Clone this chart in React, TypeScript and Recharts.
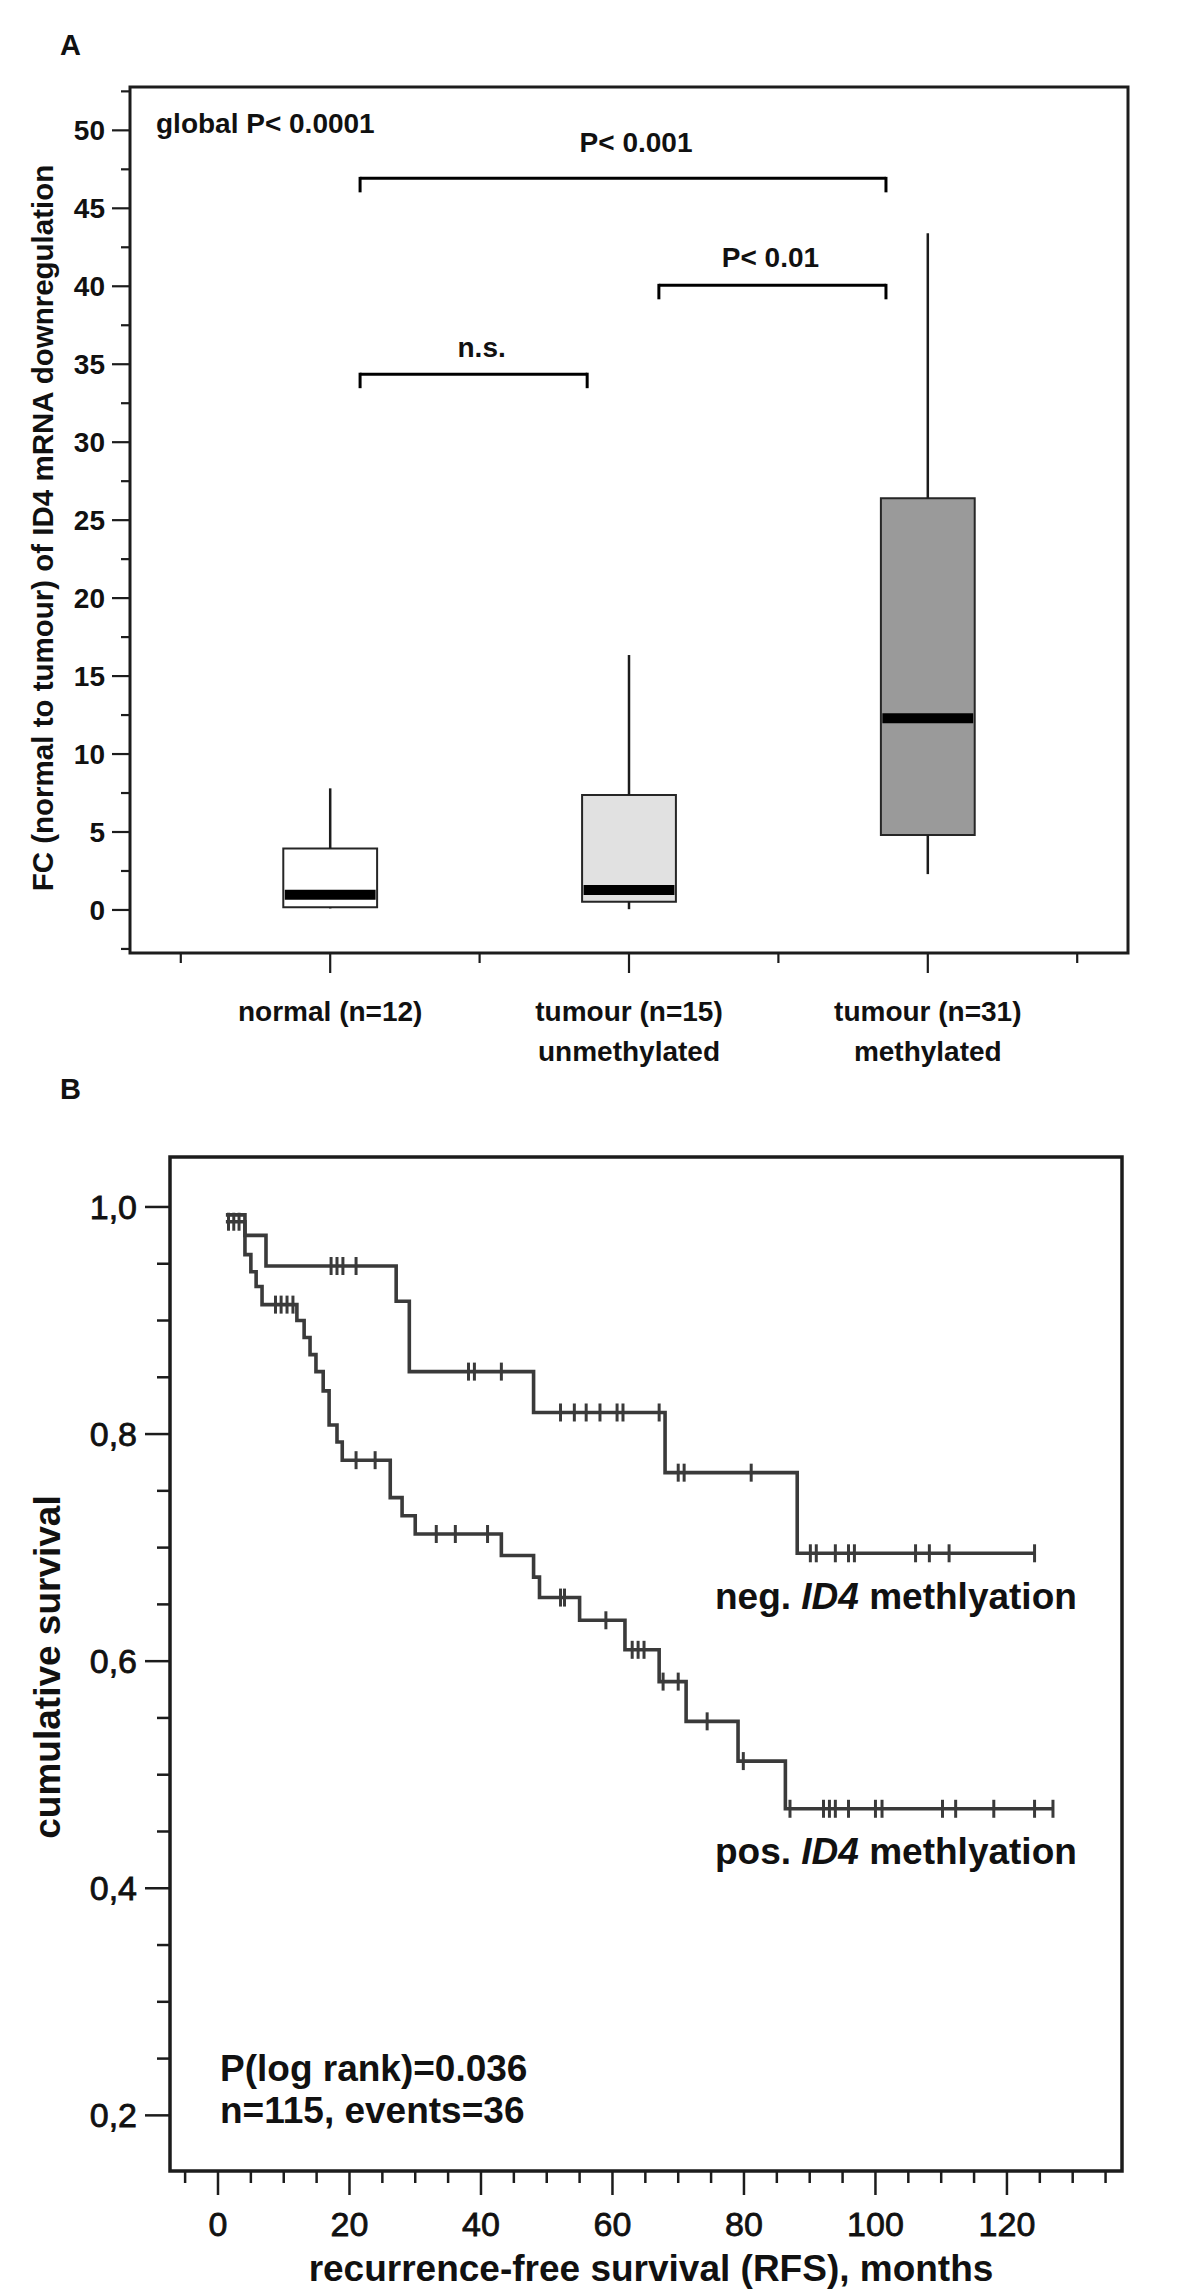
import React from "react";
import { ComposedChart, XAxis, YAxis, ReferenceArea, ReferenceLine, Line, Scatter } from "recharts";

const FONT = '"Liberation Sans", Arial, Helvetica, sans-serif';
const INK = "#1c1c1c";
const CURVE = "#3a3a3a";

// ---- panel A: FC of ID4 mRNA, box plot ----
const groupNames = ["normal (n=12)", "tumour (n=15)", "tumour (n=31)"];
const groupSubNames = ["", "unmethylated", "methylated"];
const groupPos = [1, 2, 3];
const whiskerLow = [0.1, 0.05, 2.3];
const quart1 = [0.17, 0.53, 4.8];
const medians = [0.98, 1.28, 12.3];
const quart3 = [3.95, 7.37, 26.4];
const whiskerHigh = [7.8, 16.35, 43.4];
const boxFill = ["#ffffff", "#e1e1e1", "#9a9a9a"];

const fcTicks = [-2.5, 0, 2.5, 5, 7.5, 10, 12.5, 15, 17.5, 20, 22.5, 25, 27.5, 30, 32.5, 35, 37.5, 40, 42.5, 45, 47.5, 50, 52.5];
const fcLabelTicks = [0, 5, 10, 15, 20, 25, 30, 35, 40, 45, 50];
const groupTicks = [0.5, 1, 1.5, 2, 2.5, 3, 3.5];

const bracketLeft = [1.1, 2.1, 1.1];
const bracketRight = [2.86, 2.86, 1.86];
const bracketLevel = [46.92, 40.06, 34.36];
const bracketText = ["P< 0.001", "P< 0.01", "n.s."];

// ---- panel B: Kaplan-Meier, recurrence-free survival ----
const negTime = [1.2, 4.1, 7.3, 27.1, 29.1, 48.0, 68.0, 88.1, 124.2];
const negSurv = [0.987, 0.975, 0.948, 0.917, 0.855, 0.819, 0.766, 0.695, 0.695];
const negCensored = [1.6, 2.4, 3.2, 17.2, 18.1, 19.0, 21.0, 38.1, 39.0, 43.1, 52.1, 54.2, 56.0, 58.1, 60.7, 61.6, 67.1, 70.0, 70.9, 81.1, 90.1, 91.0, 93.9, 95.9, 96.8, 106.1, 108.2, 111.2, 124.2];

const posTime = [1.2, 4.1, 5.0, 5.8, 6.7, 12.0, 13.1, 14.0, 14.9, 16.0, 16.9, 18.1, 18.9, 26.2, 28.0, 30.0, 43.1, 48.0, 48.9, 55.0, 61.9, 67.1, 71.2, 79.1, 86.3, 127.0];
const posSurv = [0.993, 0.958, 0.943, 0.930, 0.914, 0.900, 0.885, 0.870, 0.855, 0.838, 0.808, 0.793, 0.777, 0.744, 0.728, 0.712, 0.693, 0.674, 0.656, 0.636, 0.610, 0.582, 0.547, 0.512, 0.470, 0.470];
const posCensored = [8.75, 9.6, 10.5, 11.4, 21.0, 23.9, 33.2, 36.1, 41.0, 52.1, 52.7, 59.0, 63.0, 63.9, 64.8, 67.7, 70.0, 74.4, 79.9, 87.0, 92.1, 93.0, 93.9, 95.9, 100.0, 101.0, 110.2, 112.2, 118.0, 124.2, 127.0];

const survTicks = [0.2, 0.25, 0.3, 0.35, 0.4, 0.45, 0.5, 0.55, 0.6, 0.65, 0.7, 0.75, 0.8, 0.85, 0.9, 0.95, 1.0];
const survLabelTicks = [0.2, 0.4, 0.6, 0.8, 1.0];
const monthTicks = [-5, 0, 5, 10, 15, 20, 25, 30, 35, 40, 45, 50, 55, 60, 65, 70, 75, 80, 85, 90, 95, 100, 105, 110, 115, 120, 125, 130, 135];
const monthLabelTicks = [0, 20, 40, 60, 80, 100, 120];

const has = (list: number[], v: number) => list.some((a) => Math.abs(a - v) < 1e-6);

const toSteps = (time: number[], surv: number[]) => time.map((t, i) => ({ t, v: surv[i] }));
const levelAt = (time: number[], surv: number[], t: number) => {
  let v = surv[0];
  time.forEach((tt, i) => {
    if (tt <= t + 1e-9) v = surv[i];
  });
  return v;
};
const toCensors = (cens: number[], time: number[], surv: number[]) =>
  cens.map((t) => ({ t, v: levelAt(time, surv, t) }));

const negData = toSteps(negTime, negSurv);
const posData = toSteps(posTime, posSurv);
const negCensorData = toCensors(negCensored, negTime, negSurv);
const posCensorData = toCensors(posCensored, posTime, posSurv);

const textBase = { fontFamily: FONT, fill: "#111" };

function FcTick(props: any) {
  const { x, y, payload } = props;
  const v = payload.value;
  const major = has(fcLabelTicks, v);
  return (
    <g>
      <line x1={x - (major ? 18 : 9)} x2={x} y1={y} y2={y} stroke={INK} strokeWidth={2.2} />
      {major && (
        <text x={x - 25} y={y + 10} textAnchor="end" fontSize={28} fontWeight="bold" {...textBase}>
          {v}
        </text>
      )}
    </g>
  );
}

function GroupTick(props: any) {
  const { x, y, payload } = props;
  const v = payload.value;
  const idx = groupPos.indexOf(v);
  const major = idx >= 0;
  return (
    <g>
      <line x1={x} x2={x} y1={y} y2={y + (major ? 20 : 10)} stroke={INK} strokeWidth={2.2} />
      {major && (
        <text x={x} y={y + 68} textAnchor="middle" fontSize={28} fontWeight="bold" {...textBase}>
          {groupNames[idx]}
        </text>
      )}
      {major && groupSubNames[idx] && (
        <text x={x} y={y + 108} textAnchor="middle" fontSize={28} fontWeight="bold" {...textBase}>
          {groupSubNames[idx]}
        </text>
      )}
    </g>
  );
}

function SurvTick(props: any) {
  const { x, y, payload } = props;
  const v = payload.value;
  const major = has(survLabelTicks, v);
  return (
    <g>
      <line x1={x - (major ? 25 : 13)} x2={x} y1={y} y2={y} stroke={INK} strokeWidth={2.5} />
      {major && (
        <text x={x - 33} y={y + 12} textAnchor="end" fontSize={34} stroke="#111" strokeWidth={0.8} {...textBase}>
          {v.toFixed(1).replace(".", ",")}
        </text>
      )}
    </g>
  );
}

function MonthTick(props: any) {
  const { x, y, payload } = props;
  const v = payload.value;
  const major = has(monthLabelTicks, v);
  return (
    <g>
      <line x1={x} x2={x} y1={y} y2={y + (major ? 24 : 12)} stroke={INK} strokeWidth={2.5} />
      {major && (
        <text x={x} y={y + 65} textAnchor="middle" fontSize={34} stroke="#111" strokeWidth={0.8} {...textBase}>
          {v}
        </text>
      )}
    </g>
  );
}

const bracketLabel = (text: string, dx: number, gap: number) => (props: any) => {
  const vb = props.viewBox || {};
  return (
    <text
      x={vb.x + (vb.width || 0) / 2 + dx}
      y={vb.y - gap}
      textAnchor="middle"
      fontSize={28}
      fontWeight="bold"
      {...textBase}
    >
      {text}
    </text>
  );
};
const bracketDx = [13, -2, 8];
const bracketGap = [26, 18, 17];
const bracketTail = 0.8;

const CensorMark = (props: any) => {
  const { cx, cy } = props;
  if (cx == null || cy == null) return <g />;
  return <line x1={cx} x2={cx} y1={cy - 9} y2={cy + 9} stroke={CURVE} strokeWidth={3} />;
};

function PanelA() {
  const boxes = groupPos.map((g, i) => ({ g, median: medians[i] }));
  return (
    <ComposedChart width={1200} height={1100} margin={{ top: 87, right: 72, bottom: 0, left: 0 }}>
      <XAxis
        type="number"
        dataKey="g"
        domain={[0.33, 3.67]}
        allowDataOverflow
        ticks={groupTicks}
        interval={0}
        height={147}
        tickSize={0}
        tickMargin={0}
        axisLine={false}
        tick={<GroupTick />}
      />
      <YAxis
        type="number"
        dataKey="median"
        domain={[-2.76, 52.78]}
        allowDataOverflow
        ticks={fcTicks}
        interval={0}
        width={130}
        tickSize={0}
        tickMargin={0}
        axisLine={false}
        tick={<FcTick />}
      />
      {groupPos.map((g, i) => (
        <ReferenceLine
          key={"wl" + i}
          segment={[{ x: g, y: whiskerLow[i] }, { x: g, y: quart1[i] }]}
          stroke={INK}
          strokeWidth={2.5}
        />
      ))}
      {groupPos.map((g, i) => (
        <ReferenceLine
          key={"wh" + i}
          segment={[{ x: g, y: quart3[i] }, { x: g, y: whiskerHigh[i] }]}
          stroke={INK}
          strokeWidth={2.5}
        />
      ))}
      {groupPos.map((g, i) => (
        <ReferenceArea
          key={"box" + i}
          x1={g - 0.157}
          x2={g + 0.157}
          y1={quart1[i]}
          y2={quart3[i]}
          fill={boxFill[i]}
          fillOpacity={1}
          stroke="#262626"
          strokeWidth={2}
        />
      ))}
      {groupPos.map((g, i) => (
        <ReferenceLine
          key={"med" + i}
          segment={[{ x: g - 0.152, y: medians[i] }, { x: g + 0.152, y: medians[i] }]}
          stroke="#000"
          strokeWidth={10}
        />
      ))}
      {bracketLevel.map((lv, i) => (
        <ReferenceLine
          key={"bh" + i}
          segment={[{ x: bracketLeft[i], y: lv }, { x: bracketRight[i], y: lv }]}
          stroke="#000"
          strokeWidth={3}
          label={bracketLabel(bracketText[i], bracketDx[i], bracketGap[i])}
        />
      ))}
      {bracketLevel.map((lv, i) => (
        <ReferenceLine
          key={"bl" + i}
          segment={[{ x: bracketLeft[i], y: lv }, { x: bracketLeft[i], y: lv - bracketTail }]}
          stroke="#000"
          strokeWidth={3}
          strokeLinecap="square"
        />
      ))}
      {bracketLevel.map((lv, i) => (
        <ReferenceLine
          key={"br" + i}
          segment={[{ x: bracketRight[i], y: lv }, { x: bracketRight[i], y: lv - bracketTail }]}
          stroke="#000"
          strokeWidth={3}
          strokeLinecap="square"
        />
      ))}
      <Scatter data={boxes} dataKey="median" isAnimationActive={false} shape={() => <g />} />
      <ReferenceArea x1={0.33} x2={3.67} y1={-2.76} y2={52.78} fill="none" stroke={INK} strokeWidth={3} />
    </ComposedChart>
  );
}

function PanelB() {
  return (
    <ComposedChart width={1200} height={1193} margin={{ top: 57, right: 78, bottom: 0, left: 0 }}>
      <XAxis
        type="number"
        dataKey="t"
        domain={[-7.3, 137.5]}
        allowDataOverflow
        ticks={monthTicks}
        interval={0}
        height={122}
        tickSize={0}
        tickMargin={0}
        axisLine={false}
        tick={<MonthTick />}
      />
      <YAxis
        type="number"
        dataKey="v"
        domain={[0.151, 1.044]}
        allowDataOverflow
        ticks={survTicks}
        interval={0}
        width={170}
        tickSize={0}
        tickMargin={0}
        axisLine={false}
        tick={<SurvTick />}
      />
      <Line
        data={negData}
        dataKey="v"
        type="stepAfter"
        stroke={CURVE}
        strokeWidth={3.6}
        dot={false}
        isAnimationActive={false}
      />
      <Line
        data={posData}
        dataKey="v"
        type="stepAfter"
        stroke={CURVE}
        strokeWidth={3.6}
        dot={false}
        isAnimationActive={false}
      />
      <Scatter data={negCensorData} isAnimationActive={false} shape={CensorMark} />
      <Scatter data={posCensorData} isAnimationActive={false} shape={CensorMark} />
      <ReferenceArea x1={-7.3} x2={137.5} y1={0.151} y2={1.044} fill="none" stroke={INK} strokeWidth={3.5} />
    </ComposedChart>
  );
}

export default function App() {
  const bold = { fontFamily: FONT, fontWeight: "bold" as const, fill: "#111" };
  return (
    <div style={{ position: "absolute", left: 0, top: 0, width: 1200, height: 2293, background: "#fff", overflow: "hidden" }}>
      <div style={{ position: "absolute", left: 0, top: 0 }}>
        <PanelA />
      </div>
      <div style={{ position: "absolute", left: 0, top: 1100 }}>
        <PanelB />
      </div>
      <svg width={1200} height={2293} style={{ position: "absolute", left: 0, top: 0, pointerEvents: "none" }}>
        <text x={60} y={55} fontSize={29} {...bold}>A</text>
        <text x={60} y={1099} fontSize={29} {...bold}>B</text>
        <text x={156} y={133} fontSize={28} {...bold}>global P&lt; 0.0001</text>
        <text x={53} y={528} fontSize={29.5} textAnchor="middle" transform="rotate(-90 53 528)" {...bold}>
          FC (normal to tumour) of ID4 mRNA downregulation
        </text>
        <text x={60} y={1667} fontSize={37} textAnchor="middle" transform="rotate(-90 60 1667)" {...bold}>
          cumulative survival
        </text>
        <text x={651} y={2281} fontSize={37} textAnchor="middle" {...bold}>
          recurrence-free survival (RFS), months
        </text>
        <text x={715} y={1609} fontSize={37} {...bold}>
          neg. <tspan fontStyle="italic">ID4</tspan> methlyation
        </text>
        <text x={715} y={1864} fontSize={37} {...bold}>
          pos. <tspan fontStyle="italic">ID4</tspan> methlyation
        </text>
        <text x={220} y={2081} fontSize={37} {...bold}>P(log rank)=0.036</text>
        <text x={220} y={2123} fontSize={37} {...bold}>n=115, events=36</text>
      </svg>
    </div>
  );
}
